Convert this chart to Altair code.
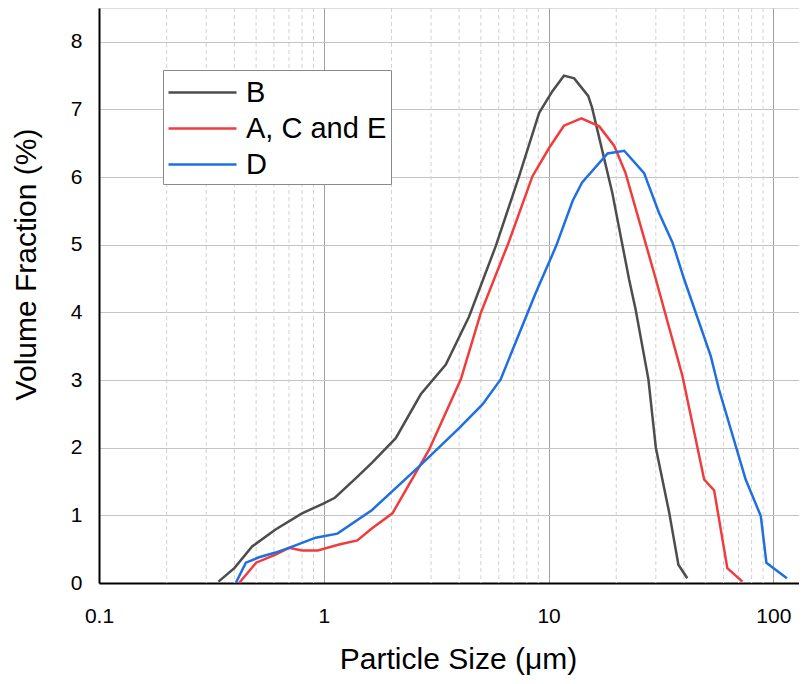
import altair as alt
import pandas as pd

# Series B
b_x = [0.34, 0.40, 0.48, 0.61, 0.80, 0.99, 1.12, 1.39, 1.64, 2.09, 2.70, 3.49, 4.43, 5.82, 7.39, 9.08, 10.4, 11.7, 13.0, 15.0, 15.6, 19.2, 22.8, 24.4, 27.8, 30.0, 34.4, 37.8, 41.4]
b_y = [0.02, 0.22, 0.54, 0.79, 1.03, 1.17, 1.26, 1.55, 1.78, 2.14, 2.79, 3.23, 3.94, 4.98, 6.01, 6.95, 7.27, 7.50, 7.46, 7.20, 7.03, 5.77, 4.49, 4.04, 3.01, 2.00, 1.04, 0.27, 0.07]

# Series A, C and E
ace_x = [0.42, 0.50, 0.61, 0.70, 0.80, 0.94, 1.17, 1.41, 1.64, 2.02, 2.94, 4.07, 4.99, 6.67, 8.47, 10.05, 11.7, 14.0, 16.8, 19.6, 22.0, 30.0, 39.4, 49.2, 54.5, 62.4, 72.8]
ace_y = [0.00, 0.30, 0.42, 0.52, 0.48, 0.48, 0.57, 0.63, 0.81, 1.03, 1.97, 3.01, 3.99, 5.05, 6.01, 6.43, 6.76, 6.87, 6.75, 6.46, 6.06, 4.49, 3.06, 1.53, 1.37, 0.22, 0.02]

# Series D
d_x = [0.406, 0.45, 0.515, 0.61, 0.70, 0.92, 1.15, 1.64, 2.65, 4.0, 5.08, 6.12, 7.02, 8.77, 10.8, 12.8, 14.1, 18.3, 21.7, 26.6, 31.0, 35.6, 40.1, 52.7, 57.3, 75.3, 87.9, 93.1, 114.8]
d_y = [0.00, 0.30, 0.38, 0.45, 0.52, 0.67, 0.73, 1.08, 1.72, 2.29, 2.64, 3.01, 3.50, 4.29, 4.98, 5.65, 5.92, 6.35, 6.39, 6.06, 5.47, 5.03, 4.49, 3.35, 2.86, 1.53, 0.99, 0.30, 0.07]

series_names = ["B", "A, C and E", "D"]
series_colors = ["#4d4d4d", "#f03c3c", "#1f6fe0"]

x_major = [0.1, 1, 10, 100]
x_minor = [m * d for d in [0.1, 1, 10, 100] for m in range(2, 10) if m * d <= 130]
y_ticks = [0, 1, 2, 3, 4, 5, 6, 7, 8]

rows = []
for name, xs, ys in zip(series_names, [b_x, ace_x, d_x], [b_y, ace_y, d_y]):
    for i, (xv, yv) in enumerate(zip(xs, ys)):
        rows.append({"size": xv, "frac": yv, "series": name, "order": i})
df = pd.DataFrame(rows)
minor_df = pd.DataFrame({"size": x_minor})

xscale = alt.Scale(type="log", domain=[0.1, 130], nice=False)
yscale = alt.Scale(domain=[0, 8.5], nice=False, zero=True)

x_axis = alt.Axis(
    values=x_major,
    format="~g",
    title="Particle Size (μm)",
    grid=True,
    gridColor="#a0a0a0",
    gridWidth=1,
    domainColor="#000000",
    domainWidth=2,
    ticks=False,
    tickSize=0,
    labelFontSize=21,
    labelFont="Liberation Sans",
    labelColor="#000000",
    labelBaseline="alphabetic",
    labelPadding=39,
    labelFlush=False,
    titleFontSize=30,
    titleFont="Liberation Sans",
    titleFontWeight="normal",
    titleColor="#000000",
    titleBaseline="alphabetic",
    titleX=359,
    titleY=85,
)

minor = alt.Chart(minor_df).mark_rule(color="#d2d2d2", strokeDash=[4, 3], strokeWidth=1).encode(
    x=alt.X("size:Q", scale=xscale, axis=x_axis)
)

lines = alt.Chart(df).mark_line(strokeWidth=2.5).encode(
    x=alt.X("size:Q", scale=xscale, axis=x_axis),
    y=alt.Y(
        "frac:Q",
        scale=yscale,
        axis=alt.Axis(
            values=y_ticks,
            title="Volume Fraction (%)",
            grid=True,
            gridColor="#c4c4c4",
            gridWidth=1,
            domainColor="#000000",
            domainWidth=2,
            ticks=False,
            tickSize=0,
            labelFontSize=21,
            labelFont="Liberation Sans",
            labelColor="#000000",
            labelPadding=17,
            titleFontSize=30,
            titleFont="Liberation Sans",
            titleFontWeight="normal",
            titleColor="#000000",
            titleBaseline="alphabetic",
            titleAngle=-90,
            titleX=-64,
            titleY=256,
        ),
    ),
    color=alt.Color(
        "series:N",
        scale=alt.Scale(domain=series_names, range=series_colors),
        legend=alt.Legend(
            title=None,
            orient="none",
            legendX=64,
            legendY=62,
            fillColor="#ffffff",
            strokeColor="#8a8a8a",
            padding=4,
            symbolType="M-1,0H3",
            symbolSize=1156,
            symbolStrokeWidth=2.5,
            labelOffset=42,
            labelFontSize=29,
            labelFont="Liberation Sans",
            labelColor="#000000",
            rowPadding=2,
        ),
    ),
    order="order:Q",
)

chart = alt.layer(minor, lines).properties(
    width=700,
    height=575,
    padding={"left": 91, "top": 0, "right": 0, "bottom": 92},
    autosize=alt.AutoSizeParams(type="none"),
).configure_view(stroke=None).configure(background="#ffffff")

chart.save("out.html", embed_options={"renderer": "svg", "actions": False})
